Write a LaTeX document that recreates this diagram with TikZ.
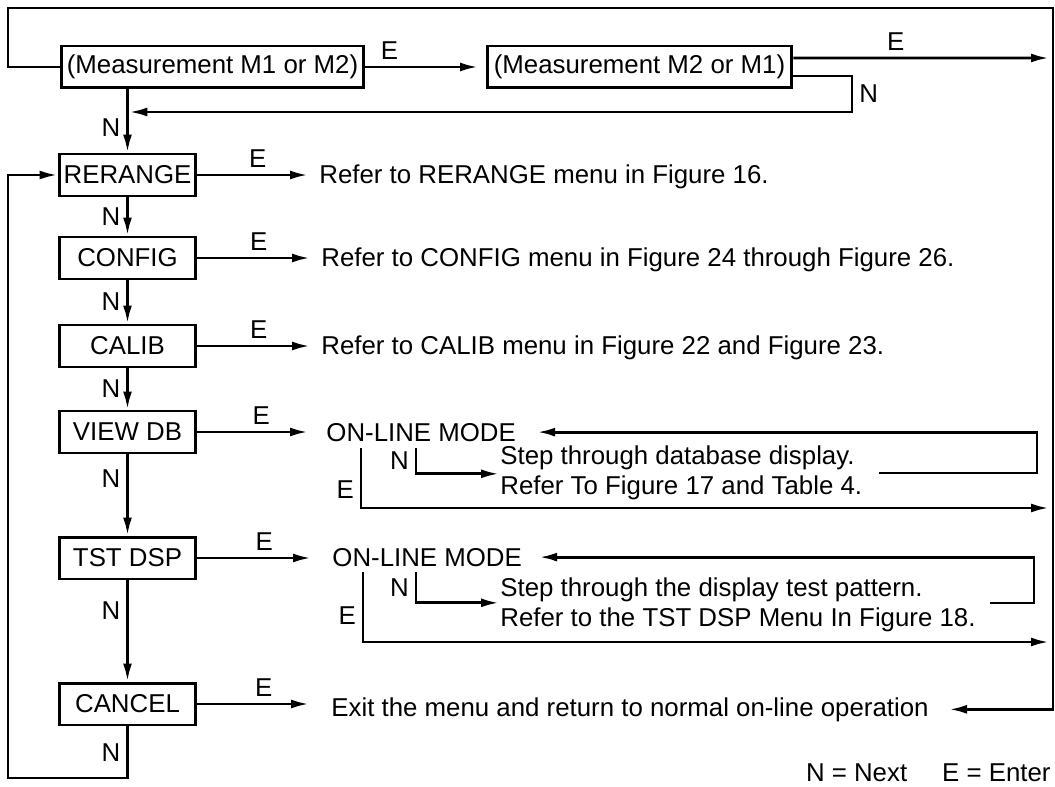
\documentclass[tikz,border=0pt]{standalone}
\usepackage{fontspec}
\setmainfont{Liberation Sans}
\usetikzlibrary{positioning, arrows.meta}
\newcommand{\flowarrow}{-{Latex[length=3.6mm,width=1.8mm]}}

\begin{document}
\begin{tikzpicture}[x=0.02cm, y=-0.02cm, line width=1.6pt,
        every node/.style={font=\fontsize{14.7}{17}\selectfont},
        menubox/.style={draw, line width=1.7pt, minimum width=2.74cm, minimum height=0.84cm, inner sep=1pt},
        txt/.style={inner sep=0pt, anchor=base west}]
        \useasboundingbox (0,0) rectangle (1055,787);

        \node[menubox, minimum width=6.06cm] (m1) at (212.5,67) {(Measurement M1 or M2)};
        \node[menubox, minimum width=6.1cm] (m2) at (639.5,67) {(Measurement M2 or M1)};
        \node[menubox] (rerange) at (127.5,175) {RERANGE};
        \node[menubox] (config) at (127.5,258) {CONFIG};
        \node[menubox] (calib) at (127.5,346) {CALIB};
        \node[menubox] (viewdb) at (127.5,432) {VIEW DB};
        \node[menubox] (tstdsp) at (127.5,558) {TST DSP};
        \node[menubox] (cancel) at (127.5,704) {CANCEL};

        \node[txt] (refrerange) at (318,184) {Refer to RERANGE menu in Figure 16.};
        \node[txt] (refconfig) at (320,267) {Refer to CONFIG menu in Figure 24 through Figure 26.};
        \node[txt] (refcalib) at (320,355) {Refer to CALIB menu in Figure 22 and Figure 23.};
        \node[txt] (online1) at (325,441) {ON-LINE MODE};
        \node[txt] (step1a) at (499,464) {Step through database display.};
        \node[txt] (step1b) at (499,494) {Refer To Figure 17 and Table 4.};
        \node[txt] (online2) at (331,566) {ON-LINE MODE};
        \node[txt] (step2a) at (499,596) {Step through the display test pattern.};
        \node[txt] (step2b) at (499,626) {Refer to the TST DSP Menu In Figure 18.};
        \node[txt] (exitop) at (330,716) {Exit the menu and return to normal on-line operation};
        \node[txt, anchor=base east] (legend) at (1052,781) {N = Next\hspace{0.7cm}E = Enter};

        \coordinate (tl) at (8,8);
        \coordinate (tr) at (1053,8);
        \coordinate (bl) at (8,778);
        \coordinate (eout0) at (1049,58);
        \coordinate (nturn) at (852,112);
        \coordinate (n1) at (416,448);
        \coordinate (e1) at (361,448);
        \coordinate (eout1) at (1049,508);
        \coordinate (back1) at (879,473);
        \coordinate (rail1) at (1037,473);
        \coordinate (n2) at (416,572);
        \coordinate (e2) at (363,572);
        \coordinate (eout2) at (1049,642);
        \coordinate (back2) at (990,603);
        \coordinate (rail2) at (1034,603);

        \draw[\flowarrow, shorten >=1.5mm] (m1.east) -- node[pos=0.2, above]{E} (m2.west);
        \draw[\flowarrow] ([yshift=0.18cm]m2.east) -- node[pos=0.4, above]{E} (eout0);
        \draw[\flowarrow, shorten >=1pt] ([yshift=-0.18cm]m2.east) -| node[pos=0.75, right]{N} (nturn) -- (nturn -| rerange);
        \draw[\flowarrow] (m1.south -| rerange) -- node[pos=0.6, left]{N} (rerange);
        \draw[\flowarrow, shorten >=0.38cm] (m1.west) -| (tl) -- (tr) |- (exitop.east);

        \draw[\flowarrow] (rerange) -- node[left]{N} (config);
        \draw[\flowarrow] (config) -- node[left]{N} (calib);
        \draw[\flowarrow] (calib) -- node[left]{N} (viewdb);
        \draw[\flowarrow] (viewdb) -- node[pos=0.3, left]{N} (tstdsp);
        \draw[\flowarrow] (tstdsp) -- node[pos=0.3, left]{N} (cancel);
        \draw[\flowarrow] (cancel.south) -- node[left]{N} (cancel.south |- bl) -- (bl) |- (rerange.west);

        \draw[\flowarrow, shorten >=0.2cm] (rerange.east) -- node[above]{E} (rerange.east -| refrerange.west);
        \draw[\flowarrow, shorten >=0.2cm] (config.east) -- node[above]{E} (config.east -| refconfig.west);
        \draw[\flowarrow, shorten >=0.2cm] (calib.east) -- node[above]{E} (calib.east -| refcalib.west);
        \draw[\flowarrow, shorten >=0.34cm] (viewdb.east) -- node[above]{E} (viewdb.east -| online1.west);
        \draw[\flowarrow, shorten >=0.4cm] (tstdsp.east) -- node[above]{E} (tstdsp.east -| online2.west);
        \draw[\flowarrow, shorten >=0.42cm] (cancel.east) -- node[above]{E} (cancel.east -| exitop.west);

        \draw[\flowarrow] (n1) |- node[pos=0.25, left]{N} ([yshift=-0.33cm]step1a.west);
        \draw[\flowarrow] (e1) |- node[pos=0.35, left]{E} (eout1);
        \draw[\flowarrow, shorten >=0.4cm] (back1) -- (rail1) |- (online1.east);
        \draw[\flowarrow] (n2) |- node[pos=0.25, left]{N} ([yshift=-0.27cm]step2a.west);
        \draw[\flowarrow] (e2) |- node[pos=0.31, left]{E} (eout2);
        \draw[\flowarrow, shorten >=0.32cm] (back2) -- (rail2) |- (online2.east);
    \end{tikzpicture}
\end{document}
